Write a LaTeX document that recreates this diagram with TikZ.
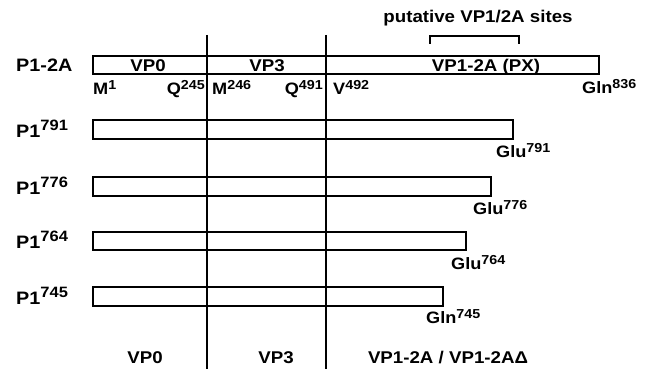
\documentclass[tikz,border=0pt]{standalone}
\usepackage{fontspec}
\setmainfont[FakeStretch=1.1]{Liberation Sans}
\newcommand\sps[1]{\raisebox{5pt}{\fontsize{13}{13}\selectfont #1}}
\newcommand\bsps[1]{\raisebox{7pt}{\fontsize{15}{15}\selectfont #1}}
\begin{document}
\begin{tikzpicture}[x=1pt,y=-1pt,
  bar/.style={draw=black,line width=1.7pt},
  vline/.style={draw=black,line width=1.6pt},
  rowlab/.style={font=\fontsize{18}{18}\selectfont\bfseries,anchor=base west,inner sep=0pt},
  inlab/.style={font=\fontsize{17}{17}\selectfont\bfseries,inner sep=0pt},
  reslab/.style={font=\fontsize{16.5}{16.5}\selectfont\bfseries,inner sep=0pt},
  botlab/.style={font=\fontsize{17}{17}\selectfont\bfseries,anchor=base,inner sep=0pt}]
\useasboundingbox (0,0) rectangle (656,369);
% vertical dividers
\coordinate (l1t) at (207,35); \coordinate (l1b) at (207,369);
\coordinate (l2t) at (326,35); \coordinate (l2b) at (326,369);
\draw[vline] (l1t) -- (l1b);
\draw[vline] (l2t) -- (l2b);
% bracket and title
\node[inlab] (put) at (478,18) {putative VP1/2A sites};
\coordinate (bra) at (430,44); \coordinate (brb) at (430,36);
\coordinate (brc) at (519,36); \coordinate (brd) at (519,44);
\draw[line width=1.6pt] (bra) -- (brb) -- (brc) -- (brd);
% bars
\draw[bar] (93,56) rectangle (599,74);
\draw[bar] (93,120) rectangle (513,139);
\draw[bar] (93,177) rectangle (491,196);
\draw[bar] (93,232) rectangle (466,250);
\draw[bar] (93,287) rectangle (443,306);
% row labels
\node[rowlab] (r0) at (16,72) {P1-2A};
\node[rowlab] (r1) at (16,137) {P1\bsps{791}};
\node[rowlab] (r2) at (16,194) {P1\bsps{776}};
\node[rowlab] (r3) at (16,248) {P1\bsps{764}};
\node[rowlab] (r4) at (16,304) {P1\bsps{745}};
% inner labels
\node[inlab,anchor=base] (i0) at (148,71) {VP0};
\node[inlab,anchor=base] (i1) at (267,71) {VP3};
\node[inlab,anchor=base] (i2) at (486,71) {VP1-2A (PX)};
% residue labels
\node[reslab,anchor=base west] (m1) at (93,94) {M\sps{1}};
\node[reslab,anchor=base east] (q245) at (205,94) {Q\sps{245}};
\node[reslab,anchor=base west] (m246) at (212,94) {M\sps{246}};
\node[reslab,anchor=base east] (q491) at (323,94) {Q\sps{491}};
\node[reslab,anchor=base west] (v492) at (333,94) {V\sps{492}};
\node[reslab,anchor=base west] (g836) at (582,93) {Gln\sps{836}};
\node[reslab,anchor=base west] (g791) at (496,157) {Glu\sps{791}};
\node[reslab,anchor=base west] (g776) at (473,214) {Glu\sps{776}};
\node[reslab,anchor=base west] (g764) at (451,269) {Glu\sps{764}};
\node[reslab,anchor=base west] (g745) at (426,323) {Gln\sps{745}};
% bottom labels
\node[botlab] (b0) at (145,363) {VP0};
\node[botlab] (b1) at (276,363) {VP3};
\node[botlab] (b2) at (448,363) {VP1-2A / VP1-2AΔ};
\end{tikzpicture}
\end{document}
